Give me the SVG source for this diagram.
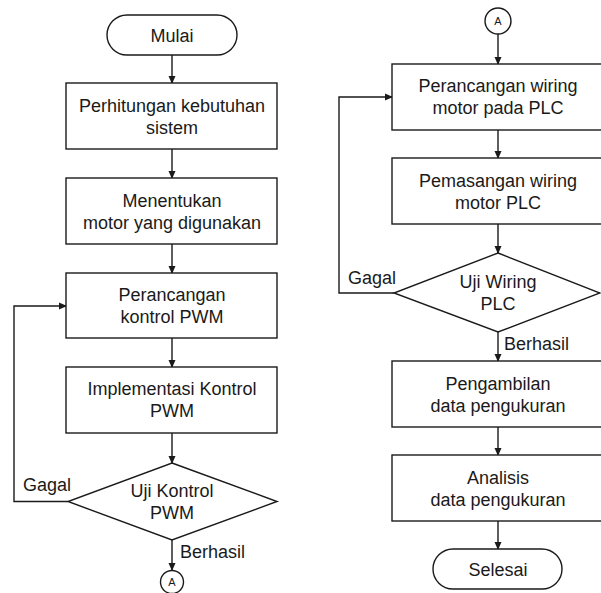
<svg xmlns="http://www.w3.org/2000/svg" width="601" height="593" viewBox="0 0 601 593">
<defs>
<marker id="ah" markerWidth="8" markerHeight="8" refX="7" refY="4" orient="auto" markerUnits="userSpaceOnUse">
<path d="M0,0.5 L8,4 L0,7.5 Z" fill="#1a1a1a"/>
</marker>
<style>
.s{fill:#fff;stroke:#1a1a1a;stroke-width:1.4}
.t{font-family:"Liberation Sans",Arial,sans-serif;font-size:18px;fill:#1a1a1a;text-anchor:middle}
.l{font-family:"Liberation Sans",Arial,sans-serif;font-size:18px;fill:#1a1a1a}
.c{font-family:"Liberation Sans",Arial,sans-serif;font-size:11px;fill:#1a1a1a;text-anchor:middle}
.e{fill:none;stroke:#1a1a1a;stroke-width:1.4;marker-end:url(#ah)}
</style>
</defs>
<rect width="601" height="593" fill="#fff"/>
<g id="connectors">
<path class="e" d="M172,55 V83"/>
<path class="e" d="M172,149 V178"/>
<path class="e" d="M172,244 V273"/>
<path class="e" d="M172,338 V367"/>
<path class="e" d="M172,433 V463"/>
<path class="e" d="M68,501.5 H14 V306 H66"/>
<path class="e" d="M172,540 V570"/>
<path class="e" d="M498,34 V64"/>
<path class="e" d="M498,130 V158"/>
<path class="e" d="M498,224 V253"/>
<path class="e" d="M394,293 H339 V97 H392"/>
<path class="e" d="M498,332 V361"/>
<path class="e" d="M498,427 V455"/>
<path class="e" d="M498,521 V549"/>
<text class="l" x="23" y="491">Gagal</text>
<text class="l" x="180" y="558">Berhasil</text>
<text class="l" x="348" y="283.5">Gagal</text>
<text class="l" x="504" y="349.5">Berhasil</text>
</g>
<g id="mulai">
<rect class="s" x="107" y="15" width="130" height="40" rx="20"/>
<text class="t" x="172" y="41.5">Mulai</text>
</g>
<g id="perhitungan">
<rect class="s" x="66" y="83" width="211" height="66"/>
<text class="t" x="172" y="111.5">Perhitungan kebutuhan</text>
<text class="t" x="172" y="133.5">sistem</text>
</g>
<g id="menentukan">
<rect class="s" x="66" y="178" width="211" height="66"/>
<text class="t" x="172" y="206.5">Menentukan</text>
<text class="t" x="172" y="228.5">motor yang digunakan</text>
</g>
<g id="perancangan-pwm">
<rect class="s" x="66" y="273" width="211" height="65"/>
<text class="t" x="172" y="300.5">Perancangan</text>
<text class="t" x="172" y="322.5">kontrol PWM</text>
</g>
<g id="implementasi">
<rect class="s" x="66" y="367" width="211" height="66"/>
<text class="t" x="172" y="395">Implementasi Kontrol</text>
<text class="t" x="172" y="417">PWM</text>
</g>
<g id="uji-pwm">
<polygon class="s" points="172,463 277,501.5 172,540 68,501.5"/>
<text class="t" x="172" y="496.5">Uji Kontrol</text>
<text class="t" x="172" y="518.5">PWM</text>
</g>
<g id="a-bottom">
<circle class="s" cx="172" cy="582" r="11.5"/>
<text class="c" x="172" y="586">A</text>
</g>
<g id="a-top">
<circle class="s" cx="498" cy="21" r="13"/>
<text class="c" x="498" y="25">A</text>
</g>
<g id="perancangan-wiring">
<rect class="s" x="392" y="64" width="215" height="66"/>
<text class="t" x="498" y="91.5">Perancangan wiring</text>
<text class="t" x="498" y="114">motor pada PLC</text>
</g>
<g id="pemasangan">
<rect class="s" x="392" y="158" width="215" height="66"/>
<text class="t" x="498" y="186.5">Pemasangan wiring</text>
<text class="t" x="498" y="208.5">motor PLC</text>
</g>
<g id="uji-wiring">
<polygon class="s" points="498,253 600,293 498,332 394,293"/>
<text class="t" x="498" y="287.5">Uji Wiring</text>
<text class="t" x="498" y="309.5">PLC</text>
</g>
<g id="pengambilan">
<rect class="s" x="392" y="361" width="215" height="66"/>
<text class="t" x="498" y="389.5">Pengambilan</text>
<text class="t" x="498" y="411.5">data pengukuran</text>
</g>
<g id="analisis">
<rect class="s" x="392" y="455" width="215" height="66"/>
<text class="t" x="498" y="483.5">Analisis</text>
<text class="t" x="498" y="505.5">data pengukuran</text>
</g>
<g id="selesai">
<rect class="s" x="433" y="549" width="129" height="40" rx="20"/>
<text class="t" x="498" y="575.5">Selesai</text>
</g>
</svg>
